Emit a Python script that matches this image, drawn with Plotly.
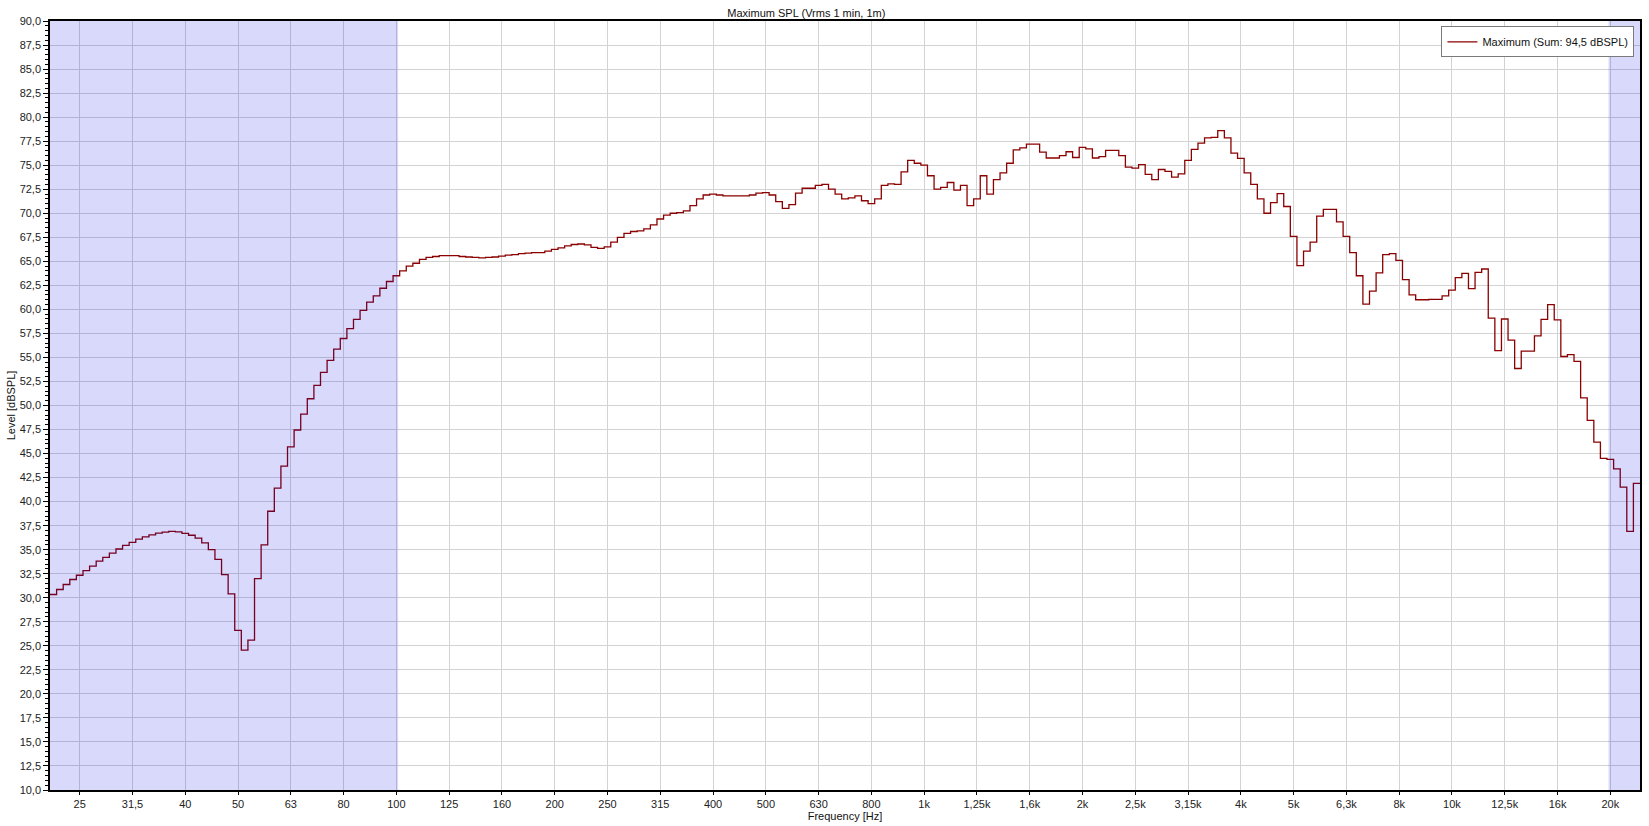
import math
import plotly.graph_objects as go

# 1/24-octave band levels (dBSPL); band index k is relative to 1 kHz (f = 1000 * 2^(k/24))
first_band = -132

levels_22_88hz = [30.34, 30.86, 31.38, 31.9, 32.34, 32.83, 33.3, 33.8, 34.2, 34.65,
                  35.07, 35.45, 35.76, 36.1, 36.34, 36.55, 36.72, 36.83, 36.9, 36.86,
                  36.7, 36.5, 36.2, 35.7, 35.0, 34.0, 32.4, 30.4, 26.6, 24.55,
                  25.6, 32.0, 35.5, 39.0, 41.4, 43.7, 45.7, 47.45, 49.1, 50.7,
                  52.1, 53.45, 54.7, 55.86, 56.97, 58.0, 58.97, 59.9, 60.76]
levels_91_280hz = [61.4, 62.2, 62.9, 63.5, 64.0, 64.5, 64.8, 65.2, 65.4, 65.5,
                   65.6, 65.6, 65.6, 65.5, 65.45, 65.4, 65.35, 65.4, 65.45, 65.55,
                   65.65, 65.7, 65.8, 65.85, 65.9, 65.9, 66.05, 66.25, 66.4, 66.6,
                   66.75, 66.8, 66.7, 66.45, 66.35, 66.5, 67.0, 67.5, 67.9, 68.1]
levels_288_1090hz = [68.16, 68.37, 68.8, 69.4, 69.8, 70.0, 70.07, 70.25, 70.8, 71.5,
                     71.9, 72.0, 71.9, 71.8, 71.8, 71.8, 71.8, 71.9, 72.1, 72.15,
                     71.9, 71.2, 70.5, 70.9, 72.1, 72.6, 72.6, 72.9, 73.0, 72.5,
                     72.0, 71.5, 71.6, 71.8, 71.3, 71.0, 71.5, 72.9, 73.05, 73.0,
                     74.3, 75.5, 75.2, 75.0, 73.9, 72.5, 72.7]
levels_1_1k_4k = [73.2, 72.4, 72.9, 70.8, 71.5, 73.9, 72.0, 73.5, 74.2, 75.2,
                  76.6, 76.8, 77.2, 77.2, 76.35, 75.75, 75.75, 76.0, 76.4, 75.8,
                  76.85, 76.7, 75.75, 75.9, 76.55, 76.55, 76.0, 74.8, 74.7, 75.05,
                  74.05, 73.5, 74.55, 74.35, 73.75, 74.1, 75.5, 76.65, 77.3, 77.85,
                  77.9, 78.6, 77.85, 76.25, 75.7]
levels_4k_7k = [74.2, 73.0, 71.5, 70.0, 71.1, 72.05, 70.7, 67.6, 64.55, 66.05,
                67.0, 69.7, 70.4, 70.4, 69.1, 67.6, 65.9, 63.5, 60.55, 61.9,
                63.8, 65.7, 65.8]
levels_8k_23k = [65.1, 63.1, 61.5, 61.0, 61.0, 61.05, 61.05, 61.4, 62.0, 63.3,
                 63.75, 62.15, 63.85, 64.2, 59.1, 55.7, 59.0, 56.8, 53.85, 55.65,
                 55.65, 57.25, 58.95, 60.5, 58.9, 55.1, 55.3, 54.6, 50.8, 48.45,
                 46.2, 44.5, 44.4, 43.4, 41.5, 36.9, 41.9]

tick_labels = ["25", "31,5", "40", "50", "63", "80", "100", "125", "160", "200",
               "250", "315", "400", "500", "630", "800", "1k", "1,25k", "1,6k", "2k",
               "2,5k", "3,15k", "4k", "5k", "6,3k", "8k", "10k", "12,5k", "16k", "20k"]
first_tick_third = -16  # 25 Hz = 1000 * 2^(-16/3)

levels = (levels_22_88hz + levels_91_280hz + levels_288_1090hz
          + levels_1_1k_4k + levels_4k_7k + levels_8k_23k)
bands = list(range(first_band, first_band + len(levels)))
# band lower edges + upper edge of the last band (for a step plot)
edges = [1000 * 2 ** ((k - 0.5) / 24) for k in bands] + [1000 * 2 ** ((bands[-1] + 0.5) / 24)]
step_y = levels + [levels[-1]]

tick_vals = [1000 * 2 ** ((first_tick_third + i) / 3) for i in range(len(tick_labels))]

FONT = "Liberation Sans, Arial, sans-serif"
GRID = "#d3d3d3"

fig = go.Figure()
fig.add_trace(go.Scatter(
    x=edges, y=step_y, mode="lines", line_shape="hv",
    line=dict(color="#8b0000", width=1.3),
    name="Maximum (Sum: 94,5 dBSPL)", showlegend=True,
))

shade = "rgba(0,0,230,0.15)"
fig.add_shape(type="rect", xref="x", yref="paper", x0=edges[0], x1=100, y0=0, y1=1,
              fillcolor=shade, line=dict(width=0), layer="above")
fig.add_shape(type="rect", xref="x", yref="paper", x0=20000, x1=edges[-1], y0=0, y1=1,
              fillcolor=shade, line=dict(width=0), layer="above")

fig.update_layout(
    width=1649, height=826,
    margin=dict(l=50, r=7, t=21, b=33),
    paper_bgcolor="white", plot_bgcolor="white",
    separators=", ",
    font=dict(family=FONT, size=11, color="#222222"),
    title=dict(text="Maximum SPL (Vrms 1 min, 1m)", x=0.489, xanchor="center",
               y=1 - 13 / 826, yanchor="middle", yref="container",
               font=dict(family=FONT, size=11, color="#111111")),
    legend=dict(x=0.9965, xanchor="right", y=0.993, yanchor="top",
                bgcolor="white", bordercolor="#7a7a7a", borderwidth=1,
                font=dict(family=FONT, size=11, color="#111111"),
                itemwidth=30, tracegroupgap=0),
    showlegend=True,
)

fig.update_xaxes(
    type="log",
    range=[math.log10(edges[0]), math.log10(edges[-1])],
    tickmode="array", tickvals=tick_vals, ticktext=tick_labels,
    ticks="outside", ticklen=3, tickcolor="black",
    showgrid=True, gridcolor=GRID, gridwidth=1,
    showline=True, linecolor="black", linewidth=1.5, mirror=True,
    zeroline=False,
    title=dict(text="Frequency [Hz]", standoff=1, font=dict(family=FONT, size=11, color="#111111")),
    tickfont=dict(family=FONT, size=11, color="#222222"),
)
fig.update_yaxes(
    range=[10, 90], tickmode="linear", tick0=10, dtick=2.5, tickformat=".1f",
    ticks="outside", ticklen=5, tickcolor="black",
    minor=dict(tickmode="linear", tick0=10, dtick=0.5, ticks="outside", ticklen=3,
               tickcolor="black", showgrid=False),
    showgrid=True, gridcolor=GRID, gridwidth=1,
    showline=True, linecolor="black", linewidth=1.5, mirror=True,
    zeroline=False,
    title=dict(text="Level [dBSPL]", standoff=2, font=dict(family=FONT, size=11, color="#111111")),
    tickfont=dict(family=FONT, size=11, color="#222222"),
)

fig.write_html("out.html", config={"displayModeBar": False},
               post_script="document.body.style.margin='0';document.body.style.overflow='hidden';")
